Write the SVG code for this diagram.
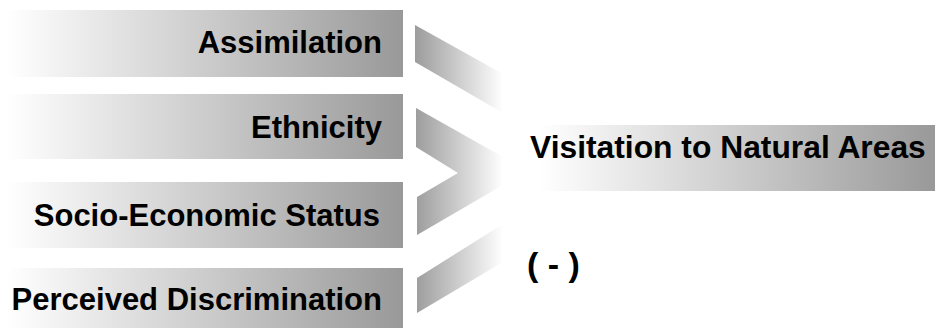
<svg xmlns="http://www.w3.org/2000/svg" width="935" height="330" viewBox="0 0 935 330">
<style>
.lbl{font-family:"Liberation Sans",Arial,sans-serif;font-weight:bold;font-size:31px;fill:#000;}
.bar{fill:url(#barGrad);}
.chev{fill:url(#chevGrad);}
</style>
<defs>
<linearGradient id="barGrad" x1="0" y1="0" x2="1" y2="0">
<stop offset="0" stop-color="#ffffff"/>
<stop offset="1" stop-color="#999999"/>
</linearGradient>
<linearGradient id="chevGrad" gradientUnits="userSpaceOnUse" x1="415" y1="0" x2="503" y2="0">
<stop offset="0" stop-color="#9c9c9c"/>
<stop offset="1" stop-color="#ffffff"/>
</linearGradient>
</defs>
<rect width="935" height="330" fill="#ffffff"/>
<g id="connectors">
<polygon class="chev" points="415,25 503,74 503,113 415,62"/>
<polygon class="chev" points="416,108 503,157 503,173 458,173 416,147"/>
<polygon class="chev" points="417,197 458,173 503,173 503,185 417,235"/>
<polygon class="chev" points="417,278 503,224 503,262 417,313"/>
</g>
<g id="node-assimilation">
<rect class="bar" x="7" y="10" width="396" height="67"/>
<text class="lbl" x="382" y="53" text-anchor="end">Assimilation</text>
</g>
<g id="node-ethnicity">
<rect class="bar" x="7" y="94" width="396" height="65"/>
<text class="lbl" x="382" y="138" text-anchor="end">Ethnicity</text>
</g>
<g id="node-ses">
<rect class="bar" x="7" y="182" width="396" height="66"/>
<text class="lbl" x="380" y="226" text-anchor="end">Socio-Economic Status</text>
</g>
<g id="node-discrimination">
<rect class="bar" x="7" y="268" width="396" height="60"/>
<text class="lbl" x="382" y="310" text-anchor="end">Perceived Discrimination</text>
</g>
<g id="node-visitation">
<rect class="bar" x="540" y="125" width="395" height="66"/>
<text class="lbl" x="530" y="158" style="font-size:31.8px">Visitation to Natural Areas</text>
</g>
<g id="label-negative">
<text class="lbl" x="527" y="276" style="font-size:34px">( - )</text>
</g>
</svg>
